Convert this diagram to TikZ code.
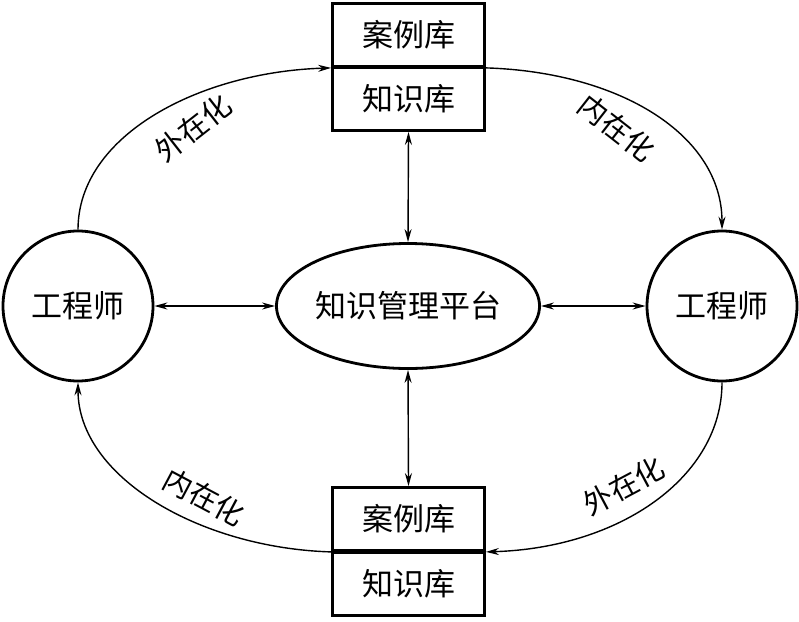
\documentclass[tikz,border=0pt]{standalone}
\usepackage{fontspec}
\setmainfont{Noto Sans CJK SC}
\usetikzlibrary{arrows.meta,shapes.geometric}
\begin{document}
\begin{tikzpicture}[x=1pt,y=-1pt,
  box/.style={draw,line width=2.8pt,minimum width=152pt,minimum height=63pt,inner sep=0pt,font=\fontsize{31}{33}\selectfont},
  eng/.style={draw,circle,line width=2.8pt,minimum size=150pt,inner sep=0pt,font=\fontsize{31}{33}\selectfont},
  plat/.style={draw,ellipse,line width=2.8pt,minimum width=263pt,minimum height=125pt,inner sep=0pt,font=\fontsize{31}{33}\selectfont},
  lab/.style={font=\fontsize{29}{31}\selectfont,inner sep=0pt},
  conn/.style={line width=1.4pt,-{Stealth[length=13pt,width=7pt]}},
  dconn/.style={line width=1.4pt,{Stealth[length=13pt,width=7pt]}-{Stealth[length=13pt,width=7pt]}}]
\useasboundingbox (0,0) rectangle (799,621);
\node[box] (t1) at (408.5,35) {案例库};
\node[box] (t2) at (408.5,99) {知识库};
\node[box] (b1) at (408.5,519) {案例库};
\node[box] (b2) at (408.5,584) {知识库};
\node[eng] (L) at (78,306) {工程师};
\node[eng] (R) at (722,306) {工程师};
\node[plat] (P) at (408,306) {知识管理平台};
\draw[dconn] (L.east) -- (P.west);
\draw[dconn] (P.east) -- (R.west);
\draw[dconn] (t2.south) -- (P.north);
\draw[dconn] (P.south) -- (b1.north);
\draw[conn] (L.north) .. controls (78,135) and (200,72) .. (t1.south west);
\draw[conn] (t1.south east) .. controls (620,72) and (722,135) .. (R.north);
\draw[conn] (R.south) .. controls (722,477) and (620,548) .. (b1.south east);
\draw[conn] (b1.south west) .. controls (200,548) and (78,477) .. (L.south);
\node[lab,rotate=38] (l1) at (193,128) {外在化};
\node[lab,rotate=-38] (l2) at (617,128) {内在化};
\node[lab,rotate=-28] (l3) at (204,497) {内在化};
\node[lab,rotate=28] (l4) at (624,486) {外在化};
\end{tikzpicture}
\end{document}
